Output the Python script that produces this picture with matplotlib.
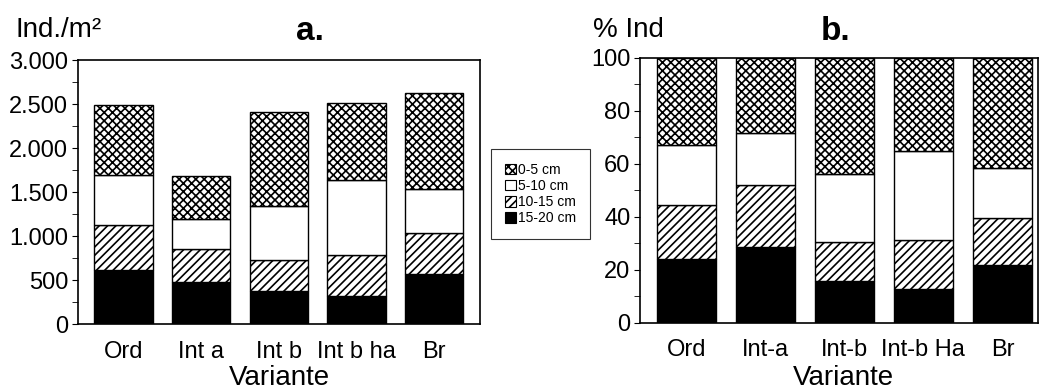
import matplotlib.pyplot as plt
from matplotlib.patches import Patch

plt.rcParams['font.family'] = ['Liberation Sans', 'DejaVu Sans']
plt.rcParams['hatch.linewidth'] = 1.2

# --- données ---
classes = ["0-5 cm", "5-10 cm", "10-15 cm", "15-20 cm"]

var_a = ["Ord", "Int a", "Int b", "Int b ha", "Br"]
# Ind./m² par classe de profondeur (a.)
a_15_20 = [620, 477, 383, 318, 568]
a_10_15 = [505, 383, 352, 474, 470]
a_5_10 = [568, 341, 609, 844, 496]
a_0_5 = [804, 489, 1068, 883, 1091]

var_b = ["Ord", "Int-a", "Int-b", "Int-b Ha", "Br"]
# % Ind par classe de profondeur (b.)
b_15_20 = [24.0, 28.4, 15.7, 12.7, 21.8]
b_10_15 = [20.3, 23.4, 14.9, 18.4, 17.7]
b_5_10 = [22.6, 19.9, 25.4, 33.7, 18.8]
b_0_5 = [33.1, 28.3, 44.0, 35.2, 41.7]

yticks_a = [0, 500, 1000, 1500, 2000, 2500, 3000]
yticklabels_a = ["0", "500", "1.000", "1.500", "2.000", "2.500", "3.000"]
yticks_b = [0, 20, 40, 60, 80, 100]

styles = [dict(color="white", hatch="xxxx"),
          dict(color="white", hatch=""),
          dict(color="white", hatch="////"),
          dict(color="black", hatch="")]


def stacked(ax, labels, series):
    x = range(len(labels))
    bottom = [0] * len(labels)
    # ordre de bas en haut : 15-20, 10-15, 5-10, 0-5
    for vals, st in zip(series, styles[::-1]):
        ax.bar(x, vals, width=0.75, bottom=bottom, color=st["color"],
               hatch=st["hatch"], edgecolor="black", linewidth=1.0)
        bottom = [b + v for b, v in zip(bottom, vals)]
    ax.set_xticks(list(x))
    ax.set_xticklabels(labels)
    ax.tick_params(axis="x", length=0, pad=12, labelsize=17)
    ax.tick_params(axis="y", which="both", direction="out", labelsize=17)
    ax.tick_params(axis="y", which="major", length=4, pad=3)
    ax.tick_params(axis="y", which="minor", length=4)
    for s in ax.spines.values():
        s.set_linewidth(1.2)


fig = plt.figure(figsize=(10.39, 3.92), dpi=100)

ax1 = fig.add_axes([0.075, 0.173, 0.387, 0.673])
stacked(ax1, var_a, [a_15_20, a_10_15, a_5_10, a_0_5])
ax1.set_xlim(-0.586, 4.59)
ax1.set_ylim(0, 3000)
ax1.set_yticks(yticks_a)
ax1.set_yticklabels(yticklabels_a)
ax1.set_yticks([250, 750, 1250, 1750, 2250, 2750], minor=True)

ax2 = fig.add_axes([0.616, 0.177, 0.383, 0.676])
stacked(ax2, var_b, [b_15_20, b_10_15, b_5_10, b_0_5])
ax2.set_xlim(-0.586, 4.45)
ax2.set_ylim(0, 100)
ax2.set_yticks(yticks_b)
ax2.set_yticks([10, 30, 50, 70, 90], minor=True)

# titres et étiquettes
fig.text(0.269, 0.018, "Variante", fontsize=20, ha="center", va="baseline")
fig.text(0.812, 0.018, "Variante", fontsize=20, ha="center", va="baseline")
fig.text(0.015, 0.906, "Ind./m²", fontsize=20, va="baseline")
fig.text(0.298, 0.898, "a.", fontsize=24, fontweight="bold", ha="center", va="baseline")
fig.text(0.571, 0.906, "% Ind", fontsize=20, va="baseline")
fig.text(0.804, 0.898, "b.", fontsize=24, fontweight="bold", ha="center", va="baseline")

handles = [Patch(facecolor=st["color"], hatch=st["hatch"], edgecolor="black", linewidth=0.8)
           for st in styles]
leg = fig.legend(handles, classes, loc="center", bbox_to_anchor=(0.520, 0.505),
                 fontsize=10, frameon=True, fancybox=False, edgecolor="black",
                 handlelength=0.8, handleheight=0.8, handletextpad=0.15,
                 labelspacing=0.15, borderpad=1.0)
leg.get_frame().set_linewidth(0.8)

fig.savefig("out.png", dpi=100)
